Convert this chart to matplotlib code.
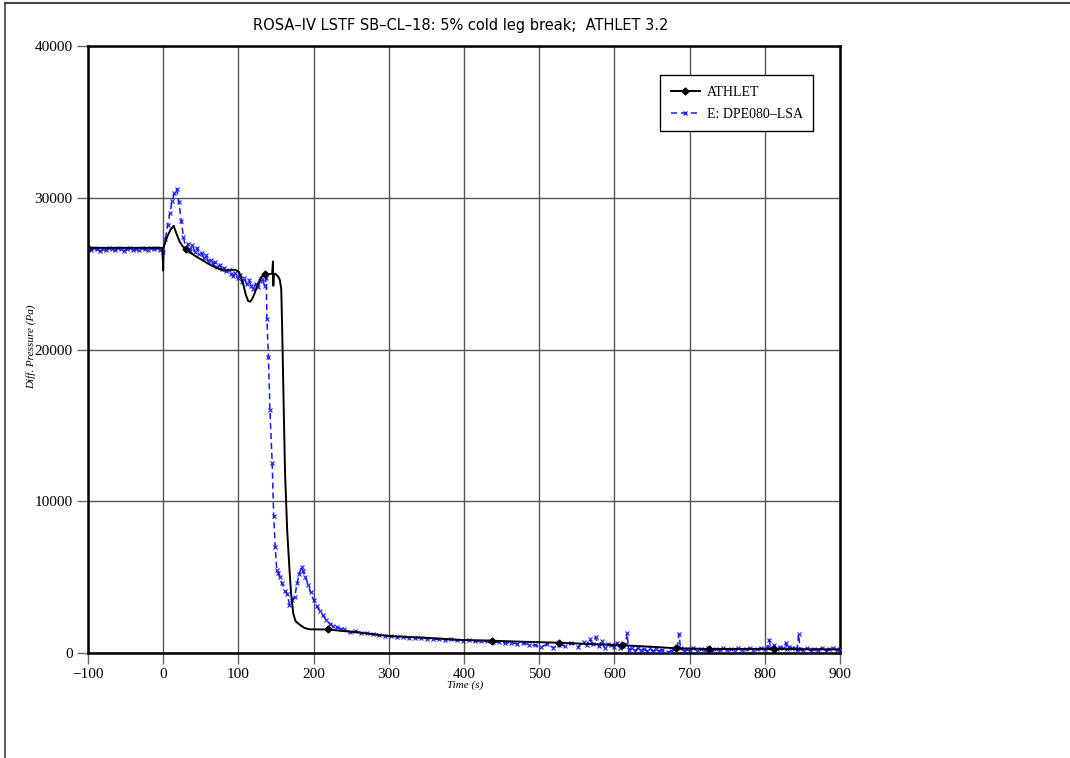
import matplotlib
matplotlib.use('Agg')
import matplotlib.pyplot as plt
from matplotlib.lines import Line2D

# ---- ATHLET (calculation) ----
athlet_t = [-100, -50, -1, 0, 0.5, 1, 5, 10, 14, 18, 22, 26, 30, 40, 50, 60, 70, 80, 90, 96,
            101, 104, 107, 110, 113, 116, 119, 122, 126, 130, 135, 140, 145, 146, 146.5, 147, 149, 153, 155, 157,
            158, 160, 162, 165, 168, 170, 173, 176, 182, 188, 195, 219, 260, 300, 350, 395, 437, 480, 526, 570,
            610, 650, 682, 726, 770, 812, 860, 900]
athlet_p = [26700, 26700, 26700, 25200, 26700, 26800, 27400, 27900, 28150, 27600, 27100, 26800, 26600, 26250, 25950, 25650, 25400, 25200, 25250, 25250,
            25100, 24700, 24200, 23600, 23200, 23150, 23400, 23750, 24300, 24750, 24950, 24950, 25000, 25800, 24200, 24900, 25000, 24800, 24600, 24000,
            22000, 17000, 12000, 8000, 5500, 4000, 2600, 2100, 1850, 1650, 1560, 1550, 1350, 1120, 1000, 860, 810, 740, 680, 590,
            510, 410, 310, 265, 265, 265, 250, 240]
athlet_marks = [0, 12, 30, 51, 56, 58, 60, 62, 63, 65]

# ---- E: DPE080-LSA (experiment) ----
exp_t_pre = [-100, -96, -92, -88, -84, -80, -76, -72, -68, -64, -60, -56, -52, -48, -44, -40, -36, -32, -28, -24,
             -20, -16, -12, -8, -4]
exp_p_pre = [26650, 26550, 26700, 26600, 26500, 26650, 26580, 26700, 26620, 26550, 26680, 26600, 26520, 26640, 26700, 26580, 26620, 26550, 26690, 26600,
             26530, 26660, 26600, 26700, 26580]

exp_t_mid = [0, 3, 6, 9, 12, 15, 18, 21, 24, 27, 30, 33, 36, 39, 42, 45, 48, 51, 54, 57,
             60, 63, 66, 69, 72, 75, 78, 81, 84, 87, 90, 93, 96, 99, 102, 105, 108, 111, 114, 117,
             120, 123, 126, 129, 132, 135, 137, 138, 140, 142, 145, 147, 149, 151, 153, 155, 158, 162, 165, 168,
             171, 175, 178, 181, 184, 186, 189, 193, 196, 200, 204, 208, 212, 217, 222, 226, 231, 236, 241, 248]
exp_p_mid = [26400, 27300, 28200, 29000, 29800, 30300, 30550, 29700, 28500, 27400, 26700, 26950, 26500, 26900, 26400, 26700, 26300, 26350, 26050, 26200,
             25850, 25900, 25650, 25750, 25450, 25550, 25300, 25350, 25150, 25250, 25000, 24850, 25050, 24700, 24900, 24450, 24700, 24300, 24550, 24200,
             24000, 24350, 24100, 24500, 24650, 24200, 24700, 22000, 19500, 16000, 12500, 9000, 7000, 5500, 5300, 5000, 4600, 4100, 3900, 3150,
             3500, 3700, 4600, 5200, 5700, 5400, 5000, 4500, 4000, 3500, 3100, 2800, 2500, 2200, 1900, 1750, 1700, 1600, 1550, 1400]

exp_t_late = [255, 263, 271, 279, 287, 295, 303, 311, 319, 327, 335, 343, 351, 359, 367, 375, 383, 391, 399, 407,
              415, 423, 431, 439, 447, 455, 463, 471, 479, 487, 495, 503, 511, 519, 527, 535, 543, 551, 559, 563,
              567, 571, 575, 579, 583, 587, 591, 595, 599, 603, 607, 611, 615, 617, 619, 623, 627, 631, 635, 639,
              643, 647, 651, 655, 659, 663, 672, 676, 680, 684, 686, 688, 692, 696, 700, 705, 710, 715, 720, 725,
              730, 735, 740, 745, 750, 755, 760, 765, 770, 775, 780, 785, 790, 795, 800, 804, 806, 808, 812, 816,
              820, 824, 828, 830, 832, 836, 840, 843, 845, 847, 851, 856, 861, 866, 871, 876, 881, 886, 891, 896,
              900]
exp_p_late = [1450, 1350, 1300, 1250, 1200, 1150, 1100, 1080, 1050, 1000, 980, 1000, 950, 920, 900, 870, 900, 850, 820, 850,
              780, 760, 790, 700, 720, 650, 680, 600, 640, 550, 500, 400, 600, 350, 550, 450, 650, 400, 700, 500,
              900, 600, 1050, 450, 800, 350, 600, 500, 400, 650, 300, 450, 600, 1300, 200, 350, 150, 300, 200, 250,
              150, 300, 100, 250, 150, 200, 50, 150, 300, 400, 1250, 300, 150, 250, 200, 300, 150, 250, 200, 300,
              150, 250, 200, 300, 200, 250, 150, 300, 200, 250, 300, 200, 250, 300, 250, 400, 850, 300, 500, 250,
              400, 300, 650, 250, 400, 300, 350, 200, 1250, 250, 200, 300, 150, 250, 200, 300, 150, 250, 300, 200,
              250]

exp_t = exp_t_pre + exp_t_mid + exp_t_late
exp_p = exp_p_pre + exp_p_mid + exp_p_late

xticks = [-100, 0, 100, 200, 300, 400, 500, 600, 700, 800, 900]
yticks = [0, 10000, 20000, 30000, 40000]

serif = 'Liberation Serif'

fig = plt.figure(figsize=(10.70, 7.58), dpi=100)
ax = fig.add_axes([0.0822, 0.1385, 0.7028, 0.8008])

ax.set_xlim(-100, 900)
ax.set_ylim(0, 40000)
ax.set_xticks(xticks)
ax.set_yticks(yticks)
ax.grid(True, color='#555555', linewidth=1.0)
ax.set_axisbelow(True)
for s in ax.spines.values():
  s.set_color('black')
  s.set_linewidth(1.8)
ax.tick_params(direction='out', length=8, width=1, color='#666666', labelsize=11, pad=3)
for lab in ax.get_xticklabels() + ax.get_yticklabels():
  lab.set_fontfamily(serif)

ax.plot(athlet_t, athlet_p, color='black', linewidth=1.4, marker='D', markersize=3.5,
        markevery=athlet_marks, label='ATHLET', zorder=4)
ax.plot(exp_t, exp_p, color='#1a1aff', linewidth=1.1, linestyle=(0, (4, 2.5)), marker='x',
        markersize=2.6, markeredgewidth=0.8, label='E: DPE080\u2013LSA', zorder=3)

# legend handles with a marker at both ends of the line
h_ath = Line2D([0], [0], color='black', linewidth=1.4, marker='D', markersize=3.5, markevery=[0, 1])
h_exp = Line2D([0], [0], color='#1a1aff', linewidth=1.1, linestyle=(0, (4, 2.5)), marker='x',
               markersize=3, markeredgewidth=0.9, markevery=[0, 1])
leg = ax.legend([h_ath, h_exp], ['ATHLET', 'E: DPE080\u2013LSA'], loc='upper left',
                bbox_to_anchor=(0.761, 0.952), borderaxespad=0, prop={'family': serif, 'size': 10},
                fancybox=False, framealpha=1, edgecolor='black', handlelength=2.1,
                borderpad=0.75, labelspacing=0.65, handletextpad=0.5)
leg.get_frame().set_linewidth(1.0)

fig.text(0.431, 0.967, 'ROSA\u2013IV LSTF SB\u2013CL\u201318: 5% cold leg break;  ATHLET 3.2',
         ha='center', va='center', fontsize=10.5, family='DejaVu Sans')
fig.text(0.435, 0.096, 'Time (s)', ha='center', va='center', fontsize=8, style='italic', family=serif)
fig.text(0.029, 0.542, 'Diff. Pressure (Pa)', ha='center', va='center', rotation=90,
         fontsize=8, style='italic', family=serif)

# page frame
fig.add_artist(Line2D([0.005, 1.0], [0.996, 0.996], transform=fig.transFigure, color='#444444', linewidth=1.5))
fig.add_artist(Line2D([0.005, 0.005], [0.0, 0.996], transform=fig.transFigure, color='#444444', linewidth=1.2))

fig.savefig('out.png', dpi=100)
